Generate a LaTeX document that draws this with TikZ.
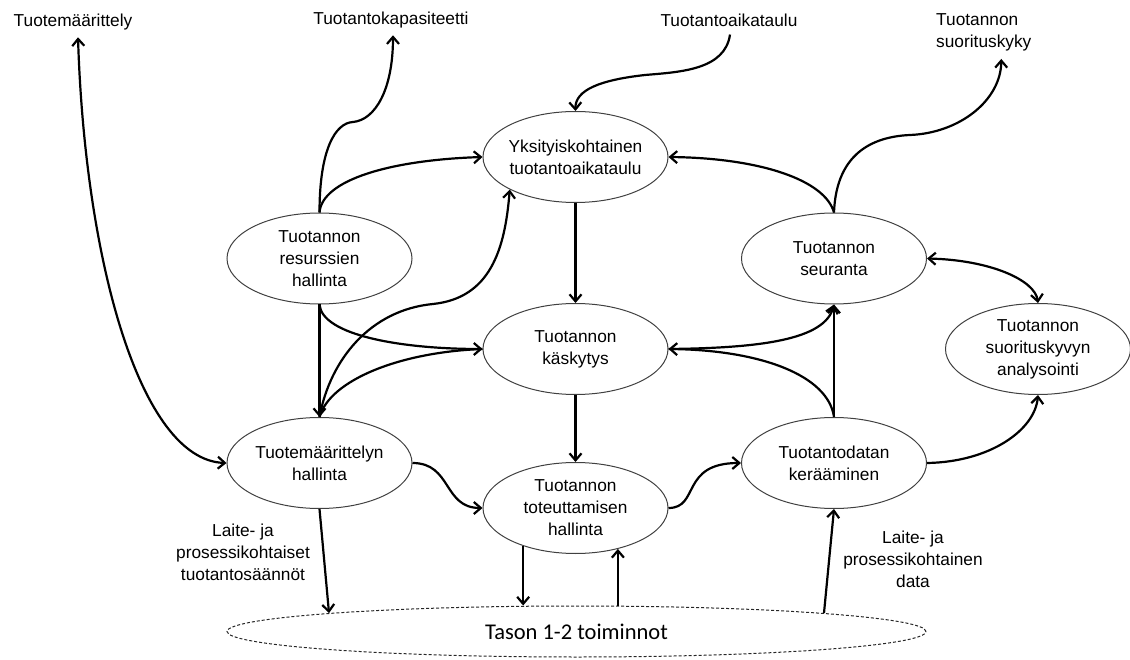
\documentclass[tikz,border=0pt]{standalone}
\usepackage{fontspec}
\setmainfont{Liberation Sans}
\newfontfamily\calibrifont{Carlito}
\usetikzlibrary{shapes.geometric,arrows.meta}
\begin{document}
\begin{tikzpicture}[x=1pt,y=-1pt,
  proc/.style={ellipse, draw=black!75, line width=1pt, minimum width=185pt, minimum height=91pt, inner sep=0pt, align=center, font=\fontsize{17.3}{22}\selectfont},
  lbl/.style={inner sep=4pt, align=center, font=\fontsize{17.3}{22}\selectfont},
  conn/.style={line width=2.2pt, -{Straight Barb[length=7pt,width=12pt]}},
  conntwo/.style={line width=2.2pt, {Straight Barb[length=7pt,width=12pt]}-{Straight Barb[length=7pt,width=12pt]}},
  plain/.style={line width=2.2pt}
  ]
\useasboundingbox (0,0) rectangle (1130,660);

% process ellipses
\node[proc, inner xsep=-1.5pt] (yk) at (575.5,157) {Yksityiskohtainen\\tuotantoaikataulu};
\node[proc] (res) at (319.5,258.5) {Tuotannon\\resurssien\\hallinta};
\node[proc] (seu) at (834,258.5) {Tuotannon\\seuranta};
\node[proc] (kas) at (575.5,349) {Tuotannon\\käskytys};
\node[proc] (ana) at (1038,349) {Tuotannon\\suorituskyvyn\\analysointi};
\node[proc] (tmh) at (319.5,463) {Tuotemäärittelyn\\hallinta};
\node[proc] (tot) at (575.5,508) {Tuotannon\\toteuttamisen\\hallinta};
\node[proc] (ker) at (834,463) {Tuotantodatan\\kerääminen};
\node[ellipse, draw=black!85, dash pattern=on 3pt off 2pt, line width=1pt,
      minimum width=699pt, minimum height=51pt, inner sep=0pt,
      font=\calibrifont\fontsize{22.5}{27}\selectfont] (tason) at (576.5,631.5) {Tason 1-2 toiminnot};

% free labels
\node[lbl] (L1) at (73,22) {Tuotemäärittely};
\node[lbl] (L2) at (391,20) {Tuotantokapasiteetti};
\node[lbl] (L3) at (729,20) {Tuotantoaikataulu};
\node[lbl, align=left, anchor=west] (L4) at (932,32) {Tuotannon\\suorituskyky};
\node[lbl] (L5) at (243,552) {Laite- ja\\prosessikohtaiset\\tuotantosäännöt};
\node[lbl] (L6) at (913,559) {Laite- ja\\prosessikohtainen\\data};

% connectors
\draw[conntwo] ([shift={(5pt,-3pt)}]L1.south) .. controls (85,260) and (140,460) .. (tmh.west);
\draw[conn] (res.north) .. controls (319.5,150) and (335,123) .. (353,122)
            .. controls (375,120) and (393,90) .. ([shift={(2pt,-3pt)}]L2.south);
\draw[conn] (res.north) .. controls (322,180) and (390,160) .. (yk.west);
\draw[conn] (seu.north) .. controls (825,180) and (760,158) .. (yk.east);
\draw[conn] (seu.north) .. controls (836,160) and (865,137) .. (910,135)
            .. controls (960,133) and (1001,100) .. ([shift={(17.5pt,-4pt)}]L4.south);
\draw[conn] ([shift={(1pt,-4pt)}]L3.south) .. controls (725,70) and (680,72) .. (645,75)
            .. controls (600,80) and (575,90) .. (yk.north);
\draw[conn] (yk.south) -- (kas.north);
\draw[conn] (kas.south) -- (tot.north);
\draw[conn] (res.south) .. controls (322,335) and (400,349) .. (kas.west);
\draw[conn] (res.south) -- (tmh.north);
\draw[conn] (tmh.north) .. controls (330,360) and (370,310) .. (433,304)
            .. controls (490,298) and (505,250) .. (yk.south west);
\draw[plain] (kas.west) .. controls (400,352) and (330,380) .. (tmh.north);
\draw[conn] (ker.north) -- (seu.south);
\draw[conn] (ker.north) .. controls (828,375) and (760,350) .. (kas.east);
\draw[conn] (kas.east) .. controls (760,348) and (825,340) .. (seu.south);
\draw[conntwo] (seu.east) .. controls (990,260) and (1035,280) .. (ana.north);
\draw[conn] (ker.east) .. controls (990,462) and (1035,430) .. (ana.south);
\draw[conn] (tmh.east) .. controls (452,463) and (443,508) .. (tot.west);
\draw[conn] (tot.east) .. controls (700,508) and (680,463) .. (ker.west);
\draw[conn] (tmh.south) -- (tason.north west);
\draw[conn] (tason.north east) -- (ker.south);
\draw[conn] (tot.216) -- (tot.216 |- tason.north);
\draw[conn] (tot.316 |- tason.north) -- (tot.316);
\end{tikzpicture}
\end{document}
